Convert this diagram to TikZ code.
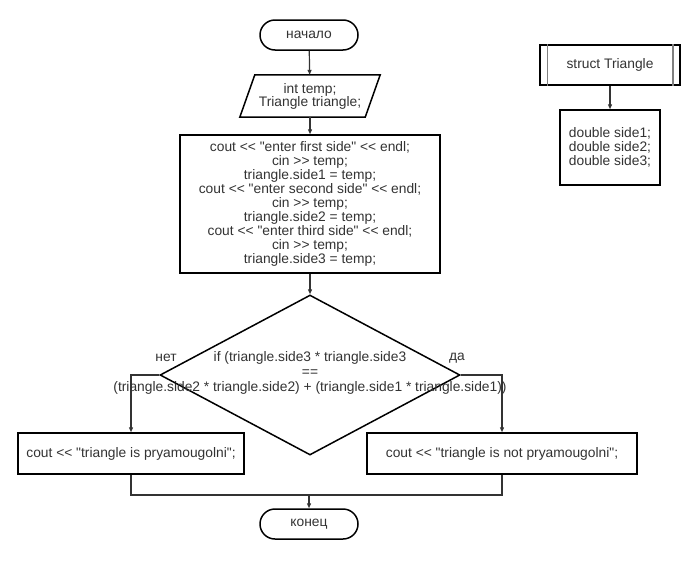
\documentclass[tikz,border=0pt]{standalone}
\usepackage{fontspec}
\setmainfont{Liberation Sans}[Ligatures=TeXOff]
\usetikzlibrary{shapes.geometric,arrows.meta}
\definecolor{ink}{HTML}{333333}
\definecolor{edge}{HTML}{000000}
\tikzset{
  every node/.style={font=\fontsize{13.8}{14}\selectfont, text=ink},
  box/.style={draw=edge, line width=1.5pt, inner sep=0pt, align=center},
  term/.style={box, rounded corners=15pt},
  arrow/.style={draw=ink, line width=1.2pt, -{Triangle[length=5pt,width=4pt]}},
  link/.style={draw=ink, line width=1.2pt},
  lbl/.style={inner sep=0pt},
}
\begin{document}
\begin{tikzpicture}[x=1pt,y=-1pt]
\useasboundingbox[fill=white] (0,0) rectangle (700,560);

% main flow
\node[term, minimum width=98pt, minimum height=30pt] (start) at (309,35) {начало};
\node[inner sep=0pt, minimum width=125pt, minimum height=42pt, align=center,
      font=\fontsize{13.8}{13}\selectfont] (decl) at (310,96)
  {int temp;\\Triangle triangle;};
\draw[edge, line width=1.5pt] ([xshift=7.5pt]decl.north west) -- ([xshift=7.5pt]decl.north east)
  -- ([xshift=-7.5pt]decl.south east) -- ([xshift=-7.5pt]decl.south west) -- cycle;
\node[box, minimum width=260pt, minimum height=138pt] (input) at (310,204)
  {cout << "enter first side" << endl;\\
   cin >> temp;\\
   triangle.side1 = temp;\\
   cout << "enter second side" << endl;\\
   cin >> temp;\\
   triangle.side2 = temp;\\
   cout << "enter third side" << endl;\\
   cin >> temp;\\
   triangle.side3 = temp;};
\node[diamond, draw=edge, line width=1.5pt, inner sep=0pt, minimum width=300pt, minimum height=160pt,
      aspect=1.875] (cond) at (310,375) {};
\node[lbl, align=center, font=\fontsize{13.8}{15}\selectfont] (condtxt) at (310,373)
  {if (triangle.side3 * triangle.side3\\==\\(triangle.side2 * triangle.side2) + (triangle.side1 * triangle.side1))};
\node[lbl] (no) at (166,358) {нет};
\node[lbl] (yes) at (457,358) {да};
\node[box, minimum width=226pt, minimum height=41pt] (right) at (131,453.5)
  {cout << "triangle is pryamougolni";};
\node[box, minimum width=270pt, minimum height=41pt] (notright) at (502,453.5)
  {cout << "triangle is not pryamougolni";};
\node[term, minimum width=98pt, minimum height=30pt] (finish) at (309,524) {конец};
\coordinate (join) at (309,495);

\draw[arrow] (start) -- (decl);
\draw[arrow] (decl) -- (input);
\draw[arrow] (input) -- (cond);
\draw[arrow] (cond.west) -| (right.north);
\draw[arrow] (cond.east) -| (notright.north);
\draw[link] (right.south) |- (join) -| (notright.south);
\draw[arrow] (join) -- (finish);

% structure declaration
\node[box, minimum width=140pt, minimum height=40pt] (struct) at (610,65) {struct Triangle};
\draw[gray, line width=1.5pt] ([xshift=8pt]struct.north west) -- ([xshift=8pt]struct.south west);
\draw[gray, line width=1.5pt] ([xshift=-8pt]struct.north east) -- ([xshift=-8pt]struct.south east);
\node[box, minimum width=100pt, minimum height=75pt] (fields) at (610,147.5)
  {double side1;\\double side2;\\double side3;};
\draw[arrow] (struct) -- (fields);
\end{tikzpicture}
\end{document}
